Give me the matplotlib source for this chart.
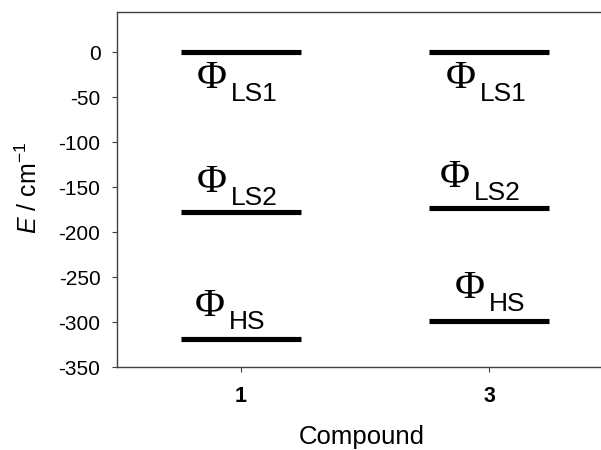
import matplotlib
matplotlib.use("Agg")
import matplotlib.pyplot as plt

# ---- data ----
compounds = ["1", "3"]
level_names = ["LS1", "LS2", "HS"]
energies_c1 = [0, -177, -319]
energies_c3 = [0, -173, -299]
yticks = [0, -50, -100, -150, -200, -250, -300, -350]

# ---- layout (pixels relative to level line centre; Φ left edge / baseline) ----
phi_offsets = {
    (0, "LS1"): (-44, -36), (0, "LS2"): (-44, 20), (0, "HS"): (-46, 23),
    (1, "LS1"): (-43, -36), (1, "LS2"): (-49, 21), (1, "HS"): (-34, 23),
}
SUB_DX, SUB_DY = 34, -13
PX2PT = 0.72

plt.rcParams['font.family'] = ['Liberation Sans', 'DejaVu Sans']
plt.rcParams['mathtext.fontset'] = 'custom'
plt.rcParams['mathtext.rm'] = 'Liberation Sans'
plt.rcParams['mathtext.it'] = 'Liberation Sans:italic'

fig = plt.figure(figsize=(6.01, 4.5), dpi=100)
W, H = 601, 450
left_px, right_px, top_px, bottom_px = 117, 613, 12, 367.3
ax = fig.add_axes([left_px / W, 1 - bottom_px / H,
                   (right_px - left_px) / W, (bottom_px - top_px) / H])

xpos = [1, 2]
half = 0.24
spine_col = '#404040'
for i, vals in enumerate([energies_c1, energies_c3]):
    ax.hlines(vals, xpos[i] - half, xpos[i] + half, colors='black',
              linewidth=3.7, capstyle='butt')
    for name, v in zip(level_names, vals):
        dx, dy = phi_offsets[(i, name)]
        ax.annotate('Φ', xy=(xpos[i], v), xytext=(dx * PX2PT, dy * PX2PT),
                    textcoords='offset points', ha='left', va='baseline',
                    fontsize=29.5, family='Liberation Serif')
        ax.annotate(name, xy=(xpos[i], v),
                    xytext=((dx + SUB_DX) * PX2PT, (dy + SUB_DY) * PX2PT),
                    textcoords='offset points', ha='left', va='baseline',
                    fontsize=19)

ax.set_xlim(0.5, 2.5)
ax.set_ylim(-350, 45)
ax.set_xticks(xpos)
ax.set_xticklabels(compounds, fontweight='bold', fontsize=15.5)
ax.set_yticks(yticks)
ax.set_yticklabels([str(t) for t in yticks], fontsize=15)

for s in ['left', 'top', 'bottom']:
    ax.spines[s].set_color(spine_col)
    ax.spines[s].set_linewidth(1.0)
ax.spines['right'].set_visible(False)
ax.tick_params(axis='y', direction='out', length=3.5, width=0.8,
               color=spine_col, pad=8.4)
ax.tick_params(axis='x', direction='out', length=3.5, width=0.8,
               color=spine_col, pad=10)

fig.text(362 / W, 1 - 437 / H, 'Compound', ha='center', va='center', fontsize=18.5)
fig.text(29 / W, 1 - 188 / H, r'$\mathit{E}$ / cm$^{\mathregular{-1}}$',
         ha='center', va='center', rotation=90, fontsize=18)

fig.savefig('out.png', dpi=100)
